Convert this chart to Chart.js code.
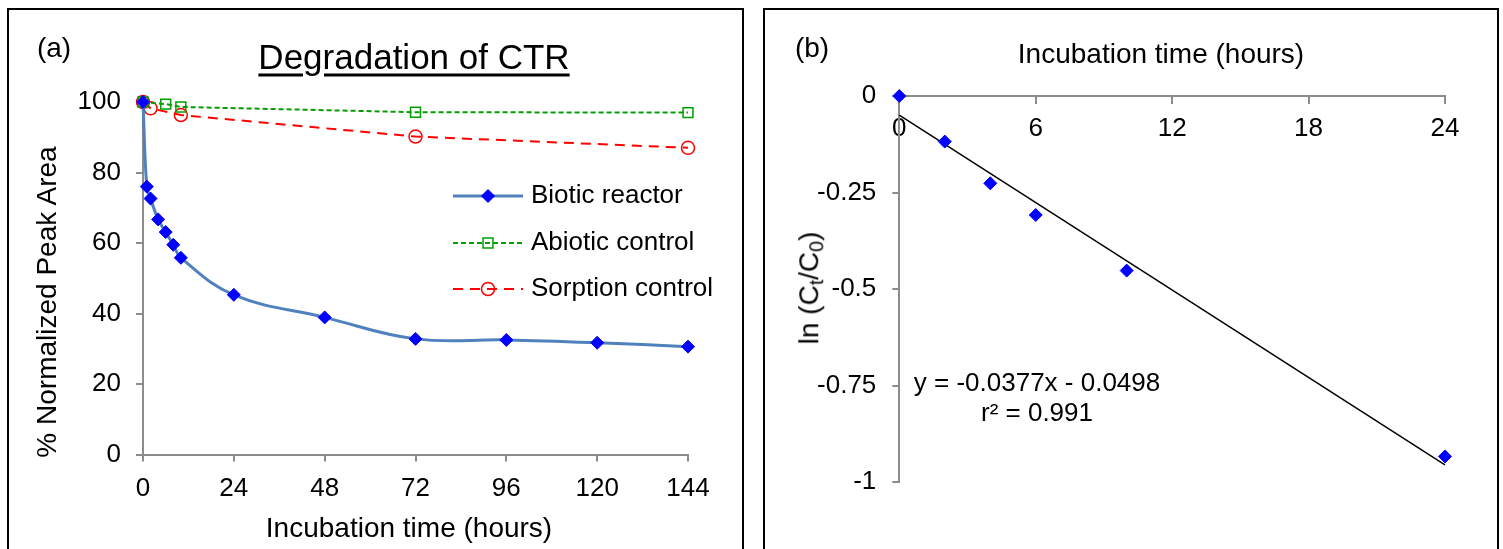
<!DOCTYPE html>
<html>
<head>
<meta charset="utf-8">
<script src="https://cdn.jsdelivr.net/npm/chart.js@4.4.1/dist/chart.umd.min.js"></script>
<style>
    body { margin: 0; width: 1503px; height: 549px; overflow: hidden; background: #fff; position: relative;
           font-family: 'Liberation Sans', Arial, sans-serif; color: #000; }
    .frame { position: absolute; border: 2px solid #000; box-sizing: border-box; }
    .txt { position: absolute; white-space: nowrap; line-height: 1; transform: translate(-50%, -50%); }
    .rot { transform: translate(-50%, -50%) rotate(-90deg); }
    canvas { position: absolute; top: 0; }
    sub { font-size: 0.7em; vertical-align: -0.25em; }
</style>
</head>
<body>
<div class="frame" style="left:7px; top:8px; width:737px; height:560px;"></div>
<div class="frame" style="left:763px; top:8px; width:736px; height:560px;"></div>

<canvas id="chartA" width="752" height="549" style="left:0;"></canvas>
<canvas id="chartB" width="751" height="549" style="left:752px;"></canvas>

<div class="txt" style="left:54px; top:48px; font-size:28px;">(a)</div>
<div class="txt" style="left:414px; top:56px; font-size:35px; text-decoration:underline; text-underline-offset:5px;">Degradation of CTR</div>
<div class="txt rot" style="left:47px; top:302px; font-size:28px;">% Normalized Peak Area</div>
<div class="txt" style="left:409px; top:528px; font-size:28px;">Incubation time (hours)</div>

<div class="txt" style="left:812px; top:48px; font-size:28px;">(b)</div>
<div class="txt" style="left:1161px; top:54px; font-size:28px;">Incubation time (hours)</div>
<div class="txt rot" style="left:811px; top:288px; font-size:28px;">ln (C<sub>t</sub>/C<sub>0</sub>)</div>
<div class="txt" style="left:1037px; top:382px; font-size:26px;">y = -0.0377x - 0.0498</div>
<div class="txt" style="left:1037px; top:412px; font-size:26px;">r² = 0.991</div>

<script>
// Panel (a) - degradation curves
const timeBiotic = [0, 1, 2, 4, 6, 8, 10, 24, 48, 72, 96, 120, 144];
const areaBiotic = [100, 76, 72.6, 66.7, 63.1, 59.5, 55.8, 45.3, 38.9, 32.8, 32.5, 31.7, 30.6];
const timeAbiotic = [0, 6, 10, 72, 144];
const areaAbiotic = [100, 99.4, 98.6, 97.1, 97];
const timeSorption = [0, 2, 10, 72, 144];
const areaSorption = [100, 98.2, 96.3, 90.2, 87];
const ticksAx = [0, 24, 48, 72, 96, 120, 144];
const ticksAy = [0, 20, 40, 60, 80, 100];

// Panel (b) - first order fit
const timeLn = [0, 2, 4, 6, 10, 24];
const lnRatio = [0, -0.118, -0.226, -0.308, -0.452, -0.933];
const trendX = [0, 24];
const trendY = [-0.0498, -0.9546];
const ticksBx = [0, 6, 12, 18, 24];
const ticksBy = [0, -0.25, -0.5, -0.75, -1];

Chart.defaults.font.family = "'Liberation Sans', Arial, sans-serif";
Chart.defaults.font.size = 26;
Chart.defaults.color = '#000';

const axisGray = '#8c8c8c';

function pairs(xs, ys) {
    return xs.map((x, i) => ({ x: x, y: ys[i] }));
}

function drawMarker(ctx, ds, x, y) {
    const r = ds.pointRadius;
    ctx.strokeStyle = ds.pointBorderColor;
    ctx.fillStyle = ds.pointBackgroundColor;
    ctx.lineWidth = ds.pointBorderWidth;
    ctx.beginPath();
    if (ds.pointStyle === 'rectRot') {
        ctx.moveTo(x, y - r); ctx.lineTo(x + r, y); ctx.lineTo(x, y + r); ctx.lineTo(x - r, y);
        ctx.closePath();
    } else if (ds.pointStyle === 'rect') {
        const s = r * Math.SQRT1_2;
        ctx.rect(x - s, y - s, 2 * s, 2 * s);
    } else {
        ctx.arc(x, y, r, 0, Math.PI * 2);
    }
    ctx.fill();
    ctx.stroke();
}

// legend drawn inside the plot area
const legendRows = [196, 243, 289];
const insideLegend = {
    id: 'insideLegend',
    afterDraw(chart) {
        const ctx = chart.ctx;
        ctx.save();
        chart.data.datasets.forEach((ds, i) => {
            const y = legendRows[i];
            ctx.strokeStyle = ds.borderColor;
            ctx.lineWidth = ds.borderWidth;
            ctx.setLineDash(ds.borderDash || []);
            ctx.beginPath();
            ctx.moveTo(453, y);
            ctx.lineTo(523, y);
            ctx.stroke();
            ctx.setLineDash([]);
            drawMarker(ctx, ds, 488, y);
            ctx.fillStyle = '#000';
            ctx.font = "26px 'Liberation Sans', Arial, sans-serif";
            ctx.textBaseline = 'middle';
            ctx.textAlign = 'left';
            ctx.fillText(ds.label, 531, y);
        });
        ctx.restore();
    }
};

new Chart(document.getElementById('chartA').getContext('2d'), {
    type: 'line',
    data: {
        datasets: [
            {
                label: 'Biotic reactor',
                data: pairs(timeBiotic, areaBiotic),
                borderColor: '#4F81BD',
                borderWidth: 3,
                tension: 0.4,
                pointStyle: 'rectRot',
                pointRadius: 6.5,
                pointBackgroundColor: '#0000FF',
                pointBorderColor: '#0000FF',
                pointBorderWidth: 1,
                clip: false
            },
            {
                label: 'Abiotic control',
                data: pairs(timeAbiotic, areaAbiotic),
                borderColor: '#00A000',
                borderWidth: 2,
                borderDash: [5, 3],
                tension: 0,
                pointStyle: 'rect',
                pointRadius: 7,
                pointBackgroundColor: 'rgba(0,0,0,0)',
                pointBorderColor: '#00A000',
                pointBorderWidth: 1.5,
                clip: false
            },
            {
                label: 'Sorption control',
                data: pairs(timeSorption, areaSorption),
                borderColor: '#FF0000',
                borderWidth: 2,
                borderDash: [10, 7],
                tension: 0,
                pointStyle: 'circle',
                pointRadius: 6.5,
                pointBackgroundColor: 'rgba(0,0,0,0)',
                pointBorderColor: '#FF0000',
                pointBorderWidth: 1.5,
                clip: false
            }
        ]
    },
    options: {
        responsive: false,
        animation: false,
        layout: { padding: { left: 0, right: 64, top: 102, bottom: 0 } },
        plugins: { legend: { display: false }, tooltip: { enabled: false } },
        scales: {
            x: {
                type: 'linear',
                min: 0,
                max: 144,
                afterBuildTicks: s => { s.ticks = ticksAx.map(v => ({ value: v })); },
                afterFit: s => { s.height = 94.5; },
                grid: { drawOnChartArea: false, tickLength: 7, color: axisGray, lineWidth: 2 },
                border: { color: axisGray, width: 2 },
                ticks: { padding: 12, maxRotation: 0, autoSkip: false, font: { size: 26 } }
            },
            y: {
                type: 'linear',
                min: 0,
                max: 100,
                afterBuildTicks: s => { s.ticks = ticksAy.map(v => ({ value: v })); },
                afterFit: s => { s.width = 143; },
                grid: { drawOnChartArea: false, tickLength: 7, color: axisGray, lineWidth: 2 },
                border: { color: axisGray, width: 2 },
                ticks: { padding: 15, font: { size: 26 } }
            }
        }
    },
    plugins: [insideLegend]
});

new Chart(document.getElementById('chartB').getContext('2d'), {
    type: 'scatter',
    data: {
        datasets: [
            {
                label: 'ln(Ct/C0)',
                data: pairs(timeLn, lnRatio),
                pointStyle: 'rectRot',
                pointRadius: 6.5,
                pointBackgroundColor: '#0000FF',
                pointBorderColor: '#0000FF',
                pointBorderWidth: 1,
                clip: false
            },
            {
                label: 'Linear fit',
                data: pairs(trendX, trendY),
                showLine: true,
                borderColor: '#000',
                borderWidth: 1.5,
                pointRadius: 0,
                clip: false
            }
        ]
    },
    options: {
        responsive: false,
        animation: false,
        layout: { padding: { left: 0, right: 58, top: 96, bottom: 66.7 } },
        plugins: { legend: { display: false }, tooltip: { enabled: false } },
        scales: {
            x: {
                type: 'linear',
                position: { y: 0 },
                min: 0,
                max: 24,
                afterBuildTicks: s => { s.ticks = ticksBx.map(v => ({ value: v })); },
                afterFit: s => { s.height = 0; },
                grid: { drawOnChartArea: false, tickLength: 7, color: axisGray, lineWidth: 2 },
                border: { color: axisGray, width: 2 },
                ticks: { padding: 10, maxRotation: 0, font: { size: 26 } }
            },
            y: {
                type: 'linear',
                min: -1,
                max: 0,
                afterBuildTicks: s => { s.ticks = ticksBy.map(v => ({ value: v })); },
                afterFit: s => { s.width = 147.3; },
                grid: { drawOnChartArea: false, tickLength: 7, color: axisGray, lineWidth: 2 },
                border: { color: axisGray, width: 2 },
                ticks: { padding: 16, font: { size: 26 }, callback: v => String(+v.toFixed(2)) }
            }
        }
    }
});
</script>
</body>
</html>
